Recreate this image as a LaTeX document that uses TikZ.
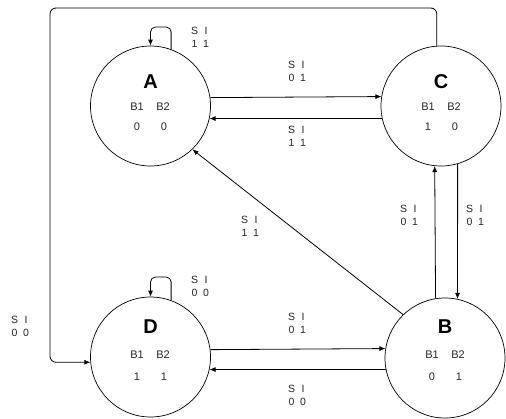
\documentclass[tikz,border=0pt]{standalone}
\usepackage{fontspec}
\setmainfont{Liberation Sans}
\usetikzlibrary{arrows.meta}
\newcommand\silab[2]{\begin{tabular}{@{}c@{\hspace{5pt}}c@{}}S&I\\#1&#2\end{tabular}}
\begin{document}
\begin{tikzpicture}[x=1pt,y=-1pt,
  state/.style={draw, circle, minimum size=120pt, inner sep=0pt, line width=0.7pt},
  edge/.style={draw, line width=0.8pt, -{Latex[length=6pt,width=5pt]}},
  lab/.style={font=\fontsize{10.5}{13}\selectfont, text=black!85, inner sep=0pt},
  big/.style={font=\fontsize{20}{20}\selectfont\bfseries, inner sep=0pt},
  small/.style={font=\fontsize{11}{13}\selectfont, text=black!85, inner sep=0pt}]
\useasboundingbox (0,0) rectangle (506,418);

% states
\node[state] (A) at (150.5,106) {};
\node[state] (C) at (441,106) {};
\node[state] (D) at (150.5,357) {};
\node[state] (B) at (445,358) {};

% state contents
\node[big] (Al) at (150.5,82) {A};
\node[small] (Ab1) at (137,107) {B1};
\node[small] (Ab2) at (163,107) {B2};
\node[small] (Av1) at (137,127) {0};
\node[small] (Av2) at (164,127) {0};

\node[big] (Cl) at (441,82) {C};
\node[small] (Cb1) at (428,107) {B1};
\node[small] (Cb2) at (454,107) {B2};
\node[small] (Cv1) at (428,127) {1};
\node[small] (Cv2) at (455,127) {0};

\node[big] (Dl) at (150.5,327) {D};
\node[small] (Db1) at (137,355) {B1};
\node[small] (Db2) at (163,355) {B2};
\node[small] (Dv1) at (137,377) {1};
\node[small] (Dv2) at (164,377) {1};

\node[big] (Bl) at (445,327) {B};
\node[small] (Bb1) at (432,355) {B1};
\node[small] (Bb2) at (458,355) {B2};
\node[small] (Bv1) at (432,377) {0};
\node[small] (Bv2) at (459,377) {1};

% helper coordinates
\coordinate (la) at (150.5,27);
\coordinate (ld) at (150.5,277);
\coordinate (tl) at (50,8);

% connectors
\draw[edge, rounded corners=5pt] (A.70) |- (la) -- (A.north);
\draw[edge, rounded corners=5pt] (D.70) |- (ld) -- (D.north);
\draw[edge] (A.8.6) -- (C.171.4);
\draw[edge] (C.192.5) -- (A.-12.5);
\draw[edge] (D.7.7) -- (B.171.4);
\draw[edge] (B.191.5) -- (D.-12.5);
\draw[edge] (C.-74.8) -- (B.78.5);
\draw[edge] (B.99.6) -- (C.264.4);
\draw[edge] (B.134.3) -- (A.-46.3);
\draw[edge, rounded corners=6pt] (C.94) |- (tl) |- (D.185);

% labels
\node[lab] (l1) at (200,38) {\silab{1}{1}};
\node[lab] (l2) at (297,72) {\silab{0}{1}};
\node[lab] (l3) at (297,137) {\silab{1}{1}};
\node[lab] (l4) at (409,216) {\silab{0}{1}};
\node[lab] (l5) at (475,216) {\silab{0}{1}};
\node[lab] (l6) at (250,227) {\silab{1}{1}};
\node[lab] (l7) at (200,287) {\silab{0}{0}};
\node[lab] (l8) at (297,324) {\silab{0}{1}};
\node[lab] (l9) at (297,396) {\silab{0}{0}};
\node[lab] (l10) at (20,327) {\silab{0}{0}};
\end{tikzpicture}
\end{document}
